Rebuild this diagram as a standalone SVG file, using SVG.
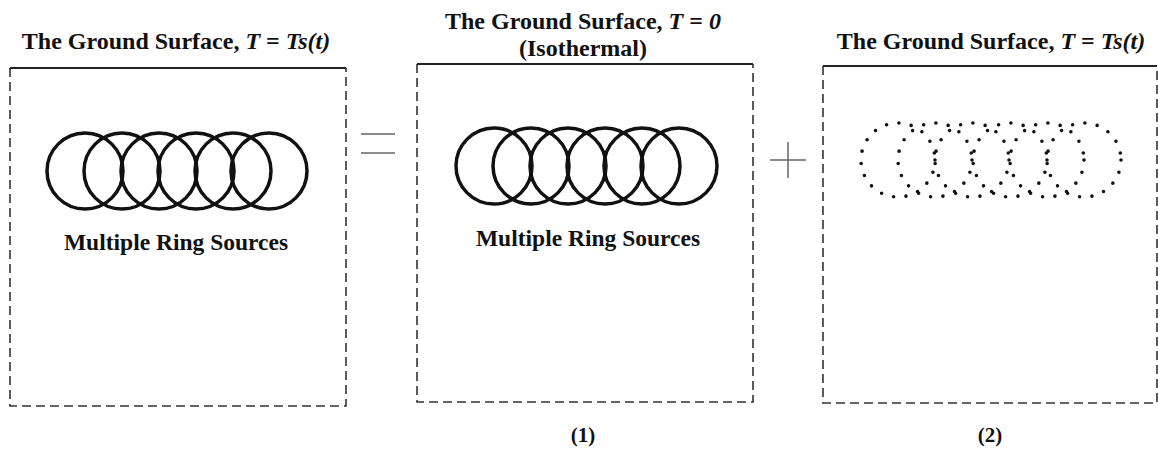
<svg xmlns="http://www.w3.org/2000/svg" width="1158" height="451" viewBox="0 0 1158 451">
<style>
.t{font-family:"Liberation Serif","Times New Roman",serif;font-weight:bold;font-size:24px;fill:#111;text-anchor:middle}
.m{font-size:23.5px}
.n{font-size:21px}
.side{fill:none;stroke:#333;stroke-width:1.6;stroke-dasharray:9 5}
.top{stroke:#222;stroke-width:2}
.ring{fill:none;stroke:#111;stroke-width:3.5}
.dot{fill:none;stroke:#111;stroke-width:3.6;stroke-linecap:round;stroke-dasharray:0 12.5}
.op{stroke:#666;stroke-width:1.5}
</style>
<rect width="1158" height="451" fill="#fff"/>
<g id="box1">
  <path class="side" d="M10,68 V406 H346 V68"/>
  <line class="top" x1="10" y1="68" x2="346" y2="68"/>
  <text class="t" x="176" y="49">The Ground Surface, <tspan font-style="italic">T</tspan> = <tspan font-style="italic">Ts(t)</tspan></text>
  <g class="ring">
    <circle cx="85" cy="171" r="38"/><circle cx="122" cy="171" r="38"/><circle cx="159" cy="171" r="38"/>
    <circle cx="196" cy="171" r="38"/><circle cx="233" cy="171" r="38"/><circle cx="269" cy="171" r="38"/>
  </g>
  <text class="t m" x="176" y="250">Multiple Ring Sources</text>
</g>
<g id="equals">
  <line class="op" x1="361" y1="134" x2="395" y2="134"/>
  <line class="op" x1="361" y1="153" x2="395" y2="153"/>
</g>
<g id="box2">
  <path class="side" d="M417,64 V402 H753 V64"/>
  <line class="top" x1="417" y1="64" x2="753" y2="64"/>
  <text class="t" x="583" y="29">The Ground Surface, <tspan font-style="italic">T</tspan> = <tspan font-style="italic">0</tspan></text>
  <text class="t" x="583" y="56">(Isothermal)</text>
  <g class="ring">
    <circle cx="494" cy="166" r="38"/><circle cx="531" cy="166" r="38"/><circle cx="568" cy="166" r="38"/>
    <circle cx="605" cy="166" r="38"/><circle cx="642" cy="166" r="38"/><circle cx="679" cy="166" r="38"/>
  </g>
  <text class="t m" x="588" y="246">Multiple Ring Sources</text>
  <text class="t n" x="583" y="442">(1)</text>
</g>
<g id="plus">
  <line class="op" x1="770" y1="160" x2="806" y2="160"/>
  <line class="op" x1="788" y1="142" x2="788" y2="178"/>
</g>
<g id="box3">
  <path class="side" d="M823,66 V403 H1157 V66"/>
  <line class="top" x1="823" y1="66" x2="1157" y2="66"/>
  <text class="t" x="991" y="49">The Ground Surface, <tspan font-style="italic">T</tspan> = <tspan font-style="italic">Ts(t)</tspan></text>
  <g class="dot">
    <circle cx="898" cy="160" r="37"/><circle cx="935" cy="160" r="37"/><circle cx="972" cy="160" r="37"/>
    <circle cx="1010" cy="160" r="37"/><circle cx="1047" cy="160" r="37"/><circle cx="1084" cy="160" r="37"/>
  </g>
  <text class="t n" x="990" y="442">(2)</text>
</g>
<g id="connectors"/>
</svg>
